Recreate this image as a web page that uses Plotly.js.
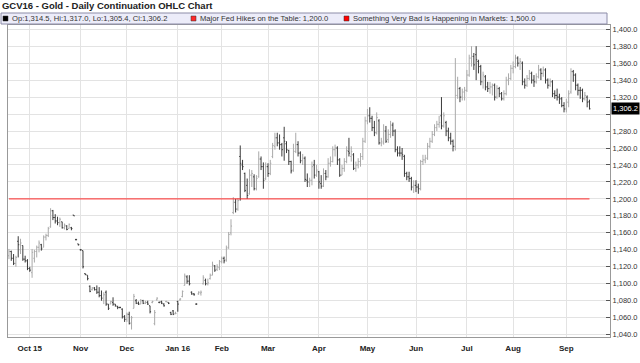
<!DOCTYPE html>
<html><head><meta charset="utf-8">
<script src="https://cdn.plot.ly/plotly-3.0.1.min.js"></script>
<style>html,body{margin:0;padding:0;background:#fff;}#chart{width:640px;height:363px;}</style>
</head><body><div id="chart"></div>
<script>
// Daily bars: [date, open, high, low, close]
const sep15 = [
["2015-09-18",1133,1141,1129,1138],["2015-09-21",1138,1139,1127,1130],["2015-09-22",1130,1135,1122,1124],
["2015-09-23",1124,1133,1120,1131],["2015-09-24",1150,1156,1131,1146],["2015-09-25",1140,1153,1135,1148],
["2015-09-28",1145,1145,1127,1129],["2015-09-29",1129,1133,1125,1127],["2015-09-30",1127,1129,1116,1118]];
const oct15 = [
["2015-10-01",1118,1120,1114,1116],["2015-10-02",1113,1141,1107,1137],["2015-10-05",1130,1140,1125,1138],
["2015-10-06",1138,1145,1131,1143],["2015-10-07",1143,1151,1137,1148],["2015-10-08",1146,1147,1139,1141],
["2015-10-09",1143,1157,1143,1155],["2015-10-12",1155,1159,1151,1157],["2015-10-13",1157,1167,1155,1165],
["2015-10-14",1167,1189,1166,1186],["2015-10-15",1186,1187,1175,1178],["2015-10-16",1178,1182,1171,1174],
["2015-10-19",1174,1179,1169,1172],["2015-10-20",1172,1178,1167,1176],["2015-10-21",1173,1173,1165,1166],
["2015-10-22",1166,1171,1164,1169],["2015-10-23",1168,1169,1163,1164],["2015-10-26",1165,1171,1165,1170],
["2015-10-27",1166,1167,1163,1165],["2015-10-28",1181,1181,1180,1180],["2015-10-29",1152,1153,1151,1152],
["2015-10-30",1147,1147,1145,1146]];
const nov15 = [
["2015-11-02",1140,1141,1139,1140],["2015-11-03",1139,1139,1118,1120],["2015-11-04",1112,1112,1110,1111],
["2015-11-05",1110,1110,1104,1106],["2015-11-06",1097,1098,1090,1091],["2015-11-09",1093,1096,1092,1095],
["2015-11-10",1095,1096,1092,1093],["2015-11-11",1093,1098,1088,1090],["2015-11-12",1090,1096,1084,1086],
["2015-11-13",1086,1092,1080,1083],["2015-11-16",1080,1090,1076,1087],["2015-11-17",1090,1092,1074,1076],
["2015-11-18",1076,1076,1069,1071],["2015-11-19",1076,1080,1076,1079],["2015-11-20",1078,1084,1074,1076],
["2015-11-23",1076,1076,1073,1074],["2015-11-24",1073,1074,1070,1072],["2015-11-25",1072,1073,1071,1072],
["2015-11-27",1070,1071,1059,1061],["2015-11-30",1061,1063,1055,1058]];
const dec15 = [
["2015-12-01",1058,1066,1055,1064],["2015-12-02",1064,1067,1052,1053],["2015-12-03",1054,1062,1046,1060],
["2015-12-04",1071,1088,1071,1085],["2015-12-07",1080,1082,1076,1077],["2015-12-08",1077,1079,1075,1076],
["2015-12-09",1076,1082,1076,1080],["2015-12-10",1080,1081,1076,1077],["2015-12-11",1077,1080,1076,1078],
["2015-12-14",1078,1080,1075,1076],["2015-12-15",1074,1074,1065,1067],["2015-12-16",1078,1080,1077,1079],
["2015-12-17",1053,1069,1051,1066],["2015-12-18",1081,1084,1080,1083],["2015-12-21",1078,1079,1077,1078],
["2015-12-22",1079,1080,1076,1077],["2015-12-23",1076,1077,1073,1074],["2015-12-24",1079,1080,1078,1079],
["2015-12-28",1078,1078,1076,1077],["2015-12-29",1066,1067,1063,1064],["2015-12-30",1068,1069,1063,1064],
["2015-12-31",1065,1067,1064,1065]];
const jan16 = [
["2016-01-04",1079,1080,1067,1076],["2016-01-05",1081,1083,1080,1082],["2016-01-06",1085,1092,1084,1091],
["2016-01-07",1098,1112,1098,1109],["2016-01-08",1108,1110,1100,1103],["2016-01-11",1103,1110,1098,1100],
["2016-01-12",1090,1091,1087,1088],["2016-01-13",1088,1089,1086,1087],["2016-01-14",1076,1077,1075,1076],
["2016-01-15",1088,1091,1087,1090],["2016-01-19",1089,1092,1086,1090],["2016-01-20",1100,1110,1099,1107],
["2016-01-21",1104,1106,1098,1100],["2016-01-22",1100,1106,1098,1101],["2016-01-25",1106,1112,1105,1110],
["2016-01-26",1110,1126,1110,1122],["2016-01-27",1121,1122,1114,1116],["2016-01-28",1117,1123,1115,1120],
["2016-01-29",1119,1128,1116,1126]];
const feb16 = [
["2016-02-01",1126,1132,1124,1130],["2016-02-02",1130,1132,1124,1127],["2016-02-03",1128,1145,1126,1142],
["2016-02-04",1143,1161,1141,1158],["2016-02-05",1160,1176,1157,1168],["2016-02-08",1184,1202,1182,1196],
["2016-02-09",1196,1200,1184,1188],["2016-02-10",1188,1201,1186,1198],["2016-02-11",1250,1263,1198,1242],
["2016-02-12",1240,1246,1234,1238],["2016-02-16",1230,1231,1208,1210],["2016-02-17",1216,1224,1200,1204],
["2016-02-18",1206,1235,1205,1228],["2016-02-19",1228,1234,1214,1230],["2016-02-22",1226,1229,1210,1212],
["2016-02-23",1212,1228,1210,1224],["2016-02-24",1226,1256,1225,1247],["2016-02-25",1247,1250,1234,1238],
["2016-02-26",1238,1243,1212,1222],["2016-02-29",1224,1243,1222,1238]];
const mar16 = [
["2016-03-01",1238,1242,1226,1230],["2016-03-02",1230,1246,1228,1242],["2016-03-03",1250,1266,1248,1263],
["2016-03-04",1262,1278,1258,1272],["2016-03-07",1272,1278,1262,1266],["2016-03-08",1266,1276,1258,1264],
["2016-03-09",1264,1266,1250,1258],["2016-03-10",1272,1285,1245,1268],["2016-03-11",1265,1268,1254,1258],
["2016-03-14",1257,1258,1240,1244],["2016-03-15",1244,1245,1230,1233],["2016-03-16",1234,1265,1232,1256],
["2016-03-17",1256,1278,1254,1264],["2016-03-18",1264,1268,1250,1254],["2016-03-21",1254,1256,1242,1245],
["2016-03-22",1245,1253,1240,1248],["2016-03-23",1248,1250,1220,1223],["2016-03-24",1222,1230,1214,1220],
["2016-03-28",1220,1225,1214,1222],["2016-03-29",1222,1244,1216,1238],["2016-03-30",1240,1246,1224,1228],
["2016-03-31",1228,1240,1226,1234]];
const apr16 = [
["2016-04-01",1232,1233,1212,1220],["2016-04-04",1218,1228,1212,1215],["2016-04-05",1215,1236,1214,1230],
["2016-04-06",1230,1234,1222,1226],["2016-04-07",1226,1248,1225,1242],["2016-04-08",1242,1250,1238,1244],
["2016-04-11",1244,1262,1243,1258],["2016-04-12",1258,1264,1250,1260],["2016-04-13",1260,1262,1240,1246],
["2016-04-14",1246,1248,1226,1228],["2016-04-15",1228,1240,1228,1236],["2016-04-18",1236,1248,1232,1244],
["2016-04-19",1244,1262,1242,1257],["2016-04-20",1256,1272,1250,1254],["2016-04-21",1250,1262,1244,1256],
["2016-04-22",1252,1254,1234,1236],["2016-04-25",1236,1244,1232,1240],["2016-04-26",1240,1248,1236,1244],
["2016-04-27",1244,1254,1238,1250],["2016-04-28",1250,1272,1246,1268],["2016-04-29",1268,1297,1266,1292]];
const may16 = [
["2016-05-02",1292,1306,1288,1298],["2016-05-03",1298,1308,1290,1295],["2016-05-04",1295,1298,1280,1284],
["2016-05-05",1284,1292,1274,1278],["2016-05-06",1278,1302,1276,1296],["2016-05-09",1292,1294,1264,1266],
["2016-05-10",1266,1272,1262,1268],["2016-05-11",1266,1288,1264,1280],["2016-05-12",1280,1286,1266,1268],
["2016-05-13",1270,1282,1266,1276],["2016-05-16",1276,1292,1272,1287],["2016-05-17",1287,1290,1274,1280],
["2016-05-18",1280,1282,1255,1258],["2016-05-19",1258,1262,1250,1254],["2016-05-20",1254,1262,1250,1254],
["2016-05-23",1254,1260,1246,1252],["2016-05-24",1250,1252,1226,1230],["2016-05-25",1230,1232,1222,1226],
["2016-05-26",1226,1232,1220,1224],["2016-05-27",1224,1226,1210,1214],["2016-05-31",1214,1222,1207,1216]];
const jun16 = [
["2016-06-01",1216,1222,1208,1214],["2016-06-02",1214,1218,1206,1212],["2016-06-03",1212,1246,1210,1244],
["2016-06-06",1244,1252,1240,1246],["2016-06-07",1246,1252,1242,1248],["2016-06-08",1248,1266,1246,1262],
["2016-06-09",1262,1272,1260,1268],["2016-06-10",1268,1280,1266,1276],["2016-06-13",1276,1288,1274,1284],
["2016-06-14",1284,1292,1280,1288],["2016-06-15",1288,1298,1284,1290],["2016-06-16",1298,1320,1282,1286],
["2016-06-17",1286,1302,1284,1298],["2016-06-20",1290,1292,1274,1280],["2016-06-21",1280,1284,1268,1272],
["2016-06-22",1272,1278,1264,1268],["2016-06-23",1268,1270,1256,1262],["2016-06-24",1262,1366,1257,1322],
["2016-06-27",1322,1344,1318,1330],["2016-06-28",1330,1332,1314,1320],["2016-06-29",1320,1330,1316,1326],
["2016-06-30",1326,1332,1316,1328]];
const jul16 = [
["2016-07-01",1328,1352,1326,1346],["2016-07-05",1346,1370,1344,1366],["2016-07-06",1366,1380,1356,1368],
["2016-07-07",1368,1372,1352,1358],["2016-07-08",1370,1380,1340,1364],["2016-07-11",1362,1364,1348,1356],
["2016-07-12",1356,1358,1334,1338],["2016-07-13",1338,1350,1330,1346],["2016-07-14",1344,1346,1328,1332],
["2016-07-15",1332,1338,1326,1330],["2016-07-18",1330,1338,1324,1332],["2016-07-19",1332,1336,1322,1334],
["2016-07-20",1334,1336,1316,1320],["2016-07-21",1320,1334,1318,1330],["2016-07-22",1330,1332,1320,1324],
["2016-07-25",1324,1326,1316,1318],["2016-07-26",1318,1328,1316,1324],["2016-07-27",1324,1344,1322,1340],
["2016-07-28",1340,1348,1334,1342],["2016-07-29",1342,1358,1340,1354]];
const aug16 = [
["2016-08-01",1354,1362,1348,1356],["2016-08-02",1356,1370,1354,1366],["2016-08-03",1366,1368,1356,1360],
["2016-08-04",1360,1366,1352,1362],["2016-08-05",1360,1362,1334,1338],["2016-08-08",1338,1342,1330,1334],
["2016-08-09",1334,1346,1332,1342],["2016-08-10",1342,1352,1340,1348],["2016-08-11",1348,1350,1336,1340],
["2016-08-12",1340,1346,1332,1338],["2016-08-15",1338,1348,1336,1344],["2016-08-16",1344,1358,1342,1352],
["2016-08-17",1352,1354,1340,1348],["2016-08-18",1348,1356,1344,1352],["2016-08-19",1352,1354,1336,1340],
["2016-08-22",1340,1342,1330,1334],["2016-08-23",1334,1342,1332,1338],["2016-08-24",1338,1340,1320,1324],
["2016-08-25",1324,1328,1318,1322],["2016-08-26",1322,1330,1316,1320],["2016-08-29",1320,1324,1312,1318],
["2016-08-30",1318,1320,1308,1310],["2016-08-31",1310,1314,1302,1306]];
const sep16 = [
["2016-09-01",1306,1318,1302,1314],["2016-09-02",1314,1328,1308,1324],["2016-09-06",1326,1354,1324,1350],
["2016-09-07",1350,1352,1338,1346],["2016-09-08",1346,1348,1328,1334],["2016-09-09",1334,1336,1322,1328],
["2016-09-12",1328,1332,1318,1328],["2016-09-13",1328,1330,1314,1318],["2016-09-14",1318,1326,1316,1322],
["2016-09-15",1320,1322,1308,1314],["2016-09-16",1314.5,1317.0,1305.4,1306.2]];

// Horizontal study levels
const levelNames = ["Major Fed Hikes on the Table", "Something Very Bad is Happening in Markets"];
const levelValues = [1200.0, 1500.0];
const levelColors = ["#ff2a2a", "#ff0000"];

// Axis labels
const monthTickDates = ["2015-10-01","2015-11-02","2015-12-01","2016-01-04","2016-02-01","2016-03-01",
  "2016-04-01","2016-05-02","2016-06-01","2016-07-01","2016-08-01","2016-09-01"];
const monthTickLabels = ["Oct 15","Nov","Dec","Jan 16","Feb","Mar","Apr","May","Jun","Jul","Aug","Sep"];
const holidays = ["2015-11-26","2015-12-25","2016-01-01","2016-01-18","2016-02-15","2016-03-25",
  "2016-05-30","2016-07-04","2016-09-05"];
const priceTicks = [1040,1060,1080,1100,1120,1140,1160,1180,1200,1220,1240,1260,1280,1300,1320,1340,1360,1380,1400];

const bars = [].concat(sep15, oct15, nov15, dec15, jan16, feb16, mar16, apr16, may16, jun16, jul16, aug16, sep16);
const dates = bars.map(r => r[0]);
const open = bars.map(r => r[1]);
const high = bars.map(r => r[2]);
const low = bars.map(r => r[3]);
const close = bars.map(r => r[4]);
const n = bars.length;

const nf = new Intl.NumberFormat('en-US', {minimumFractionDigits:1, maximumFractionDigits:1});
const fmt = v => nf.format(v);

// plot-area pixel frame
const W = 640, H = 363, L = 8, R = 610, T = 25, B = 337;
const px = x => (x - L) / (R - L);
const py = y => (B - y) / (B - T);

const traces = [{
  type: 'ohlc', x: dates, open: open, high: high, low: low, close: close,
  increasing: {line: {color: '#a9a9a9', width: 1}},
  decreasing: {line: {color: '#3a3a3a', width: 1}},
  tickwidth: 0.45, hoverinfo: 'skip', showlegend: false
}];
levelValues.forEach((v, i) => traces.push({
  type: 'scatter', mode: 'lines', x: [dates[0], dates[n - 1]], y: [v, v],
  line: {color: levelColors[i], width: 1}, hoverinfo: 'skip', showlegend: false
}));

const lastC = close[n - 1];
const tickText = priceTicks.map(v => Math.abs(v - lastC) < 10 ? '' : fmt(v));

const legendFont = {family: 'Liberation Sans, Arial, sans-serif', size: 7.6, color: '#333'};
const legendItems = [
  {sq: '#000000', x: 3, text: 'Op:' + fmt(open[n-1]) + ', Hi:' + fmt(high[n-1]) + ', Lo:' + fmt(low[n-1]) + ', Cl:' + fmt(lastC)},
  {sq: levelColors[0], x: 191, text: levelNames[0] + ': ' + fmt(levelValues[0])},
  {sq: levelColors[1], x: 344, text: levelNames[1] + ': ' + fmt(levelValues[1])}
];

const shapes = [{type: 'rect', xref: 'paper', yref: 'paper', x0: px(1), x1: px(607), y0: py(24), y1: py(13),
  fillcolor: '#ececf9', line: {color: '#8c8ca8', width: 1}, layer: 'above'}];
const annotations = [];
legendItems.forEach(it => {
  shapes.push({type: 'rect', xref: 'paper', yref: 'paper', x0: px(it.x), x1: px(it.x + 5), y0: py(21), y1: py(16),
    fillcolor: it.sq, line: {color: '#333', width: 0.5}, layer: 'above'});
  annotations.push({xref: 'paper', yref: 'paper', x: px(it.x + 7), y: py(18.5), xanchor: 'left', yanchor: 'middle',
    text: it.text, showarrow: false, font: legendFont});
});
annotations.push({xref: 'paper', yref: 'y', x: 1, y: lastC, xanchor: 'left', yanchor: 'middle', xshift: 1,
  text: fmt(lastC), showarrow: false, bgcolor: '#000', borderpad: 1,
  font: {family: 'Liberation Sans, Arial, sans-serif', size: 7.5, color: '#fff'}});

const layout = {
  width: W, height: H, autosize: false,
  margin: {l: L, r: W - R, t: T, b: H - B, pad: 0},
  paper_bgcolor: '#fff', plot_bgcolor: '#fff', showlegend: false,
  font: {family: 'Liberation Sans, Arial, sans-serif', color: '#333'},
  title: {text: '<b>GCV16 - Gold - Daily Continuation OHLC Chart</b>', xref: 'container', yref: 'container',
    x: 0.003, xanchor: 'left', y: 1 - 6 / H, yanchor: 'middle', font: {size: 9.5, color: '#222'}},
  xaxis: {type: 'date', range: ['2015-09-17 14:00', '2016-09-28 21:00'],
    rangebreaks: [{bounds: ['sat', 'mon']}, {values: holidays}],
    tickmode: 'array', tickvals: monthTickDates, ticktext: monthTickLabels.map(t => '<b>' + t + '</b>'),
    tickfont: {size: 8, color: '#222'}, ticks: '', ticklabelstandoff: 3, showgrid: true, gridcolor: '#e3e3e3', gridwidth: 1,
    showline: true, linecolor: '#999', linewidth: 1, mirror: true, zeroline: false,
    rangeslider: {visible: false}, fixedrange: true},
  yaxis: {side: 'right', range: [1037.2, 1405], tickmode: 'array', tickvals: priceTicks, ticktext: tickText,
    tickfont: {size: 7.5, color: '#333'}, ticks: 'inside', ticklen: 4, tickcolor: '#555',
    showgrid: true, gridcolor: '#e3e3e3', gridwidth: 1, showline: true, linecolor: '#999', linewidth: 1,
    mirror: true, zeroline: false, fixedrange: true},
  shapes: shapes, annotations: annotations
};

Plotly.newPlot('chart', traces, layout, {displayModeBar: false, staticPlot: true});
</script></body></html>
